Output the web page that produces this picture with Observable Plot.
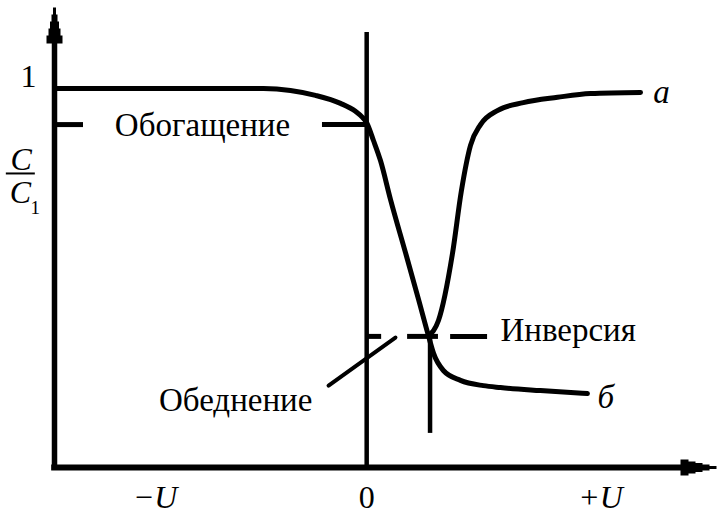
<!DOCTYPE html>
<html>
<head>
<meta charset="utf-8">
<script src="https://cdn.jsdelivr.net/npm/d3@7"></script>
<script src="https://cdn.jsdelivr.net/npm/@observablehq/plot@0.6"></script>
<style>
  html, body { margin: 0; padding: 0; background: #fff; font-family: "Liberation Serif", serif; }
  svg { display: block; }
  svg text { font-family: "Liberation Serif", serif !important; }
</style>
</head>
<body>
<div id="chart"></div>
<script>
// C–V characteristic of an MIS structure: relative capacitance C/C1 vs bias U.
// Voltage is in units of U (+U = 1), capacitance in units of C1.

// shared branch: accumulation plateau and depletion descent down to the crossing point
const descentU = [-1.335, -0.90, -0.441, -0.326, -0.219, -0.112, -0.048, -0.018, 0.0, 0.029, 0.059, 0.102, 0.166, 0.222, 0.264];
const descentC = [1.000, 1.000, 1.000, 0.995, 0.982, 0.961, 0.940, 0.924, 0.910, 0.863, 0.810, 0.707, 0.567, 0.443, 0.348];

// curve a (low frequency): recovery in inversion
const riseU = [0.264, 0.307, 0.367, 0.405, 0.444, 0.487, 0.559, 0.670, 0.816, 0.957, 1.171];
const riseC = [0.348, 0.388, 0.565, 0.730, 0.850, 0.905, 0.942, 0.963, 0.977, 0.987, 0.990];

// curve б (high frequency): stays low in inversion
const tailU = [0.264, 0.286, 0.328, 0.401, 0.499, 0.572, 0.743, 0.944];
const tailC = [0.348, 0.301, 0.256, 0.230, 0.216, 0.211, 0.203, 0.195];

// characteristic levels
const enrichLevel = 0.905;    // Обогащение
const inversionLevel = 0.346; // Инверсия
const inversionU = 0.271;

// tick labels on the voltage axis
const tickU = [-0.905, 0, 1.0];
const tickText = ["−U", "0", "+U"];

const xDomain = [-1.335, 1.496];
const yDomain = [0, 1.214];

const serif = "Liberation Serif";
// shift that puts the text baseline on the anchor point (Plot centres at 0.32em)
const toBaseline = size => -0.32 * size;

const toRows = (us, cs, curve) => us.map((u, i) => ({u, c: cs[i], curve}));
const curveB = toRows(descentU.concat(tailU.slice(1)), descentC.concat(tailC.slice(1)), "б");
const curveA = toRows(riseU, riseC, "a");

// dashed reference segments [u1, u2, level]
const dashes = [
  [-1.335, -1.211, enrichLevel],
  [-0.189, 0.0, enrichLevel],
  [0.0, 0.064, inversionLevel],
  [0.175, 0.307, inversionLevel],
  [0.359, 0.517, inversionLevel]
].map(([u1, u2, c]) => ({u1, u2, c}));

// leader line to the "Обеднение" label
const leader = [{u: -0.163, c: 0.216}, {u: 0.123, c: 0.343}];

// stepped arrowheads; tip at the anchor point
const steps = [[1.5, 0], [3, 7], [4.5, 14], [6, 21], [8, 28]];
const arrowLen = 36;
function stairPath(context, map) {
  const pts = [];
  steps.forEach(([w, d], i) => {
    const next = i + 1 < steps.length ? steps[i + 1][1] : arrowLen;
    pts.push([w, d], [w, next]);
  });
  const left = pts.slice().reverse().map(([w, d]) => [-w, d]);
  pts.concat(left).forEach(([w, d], i) => {
    const [px, py] = map(w, d);
    if (i === 0) context.moveTo(px, py); else context.lineTo(px, py);
  });
  context.closePath();
}
const arrowUp = {draw(context) { stairPath(context, (w, d) => [w, d]); }};
const arrowRight = {draw(context) { stairPath(context, (w, d) => [-d, w]); }};

// text rows: anchor point is the left/centre/right end of the baseline
const labelRows = [
  {u: -1.446, c: 1.003, text: "1", anchor: "middle", size: 32, style: "normal"},
  {u: -0.702, c: 0.876, text: "Обогащение", anchor: "middle", size: 33, style: "normal"},
  {u: 0.572, c: 0.333, text: "Инверсия", anchor: "start", size: 33, style: "normal"},
  {u: -0.232, c: 0.148, text: "Обеднение", anchor: "end", size: 33, style: "normal"},
  {u: 1.226, c: 0.963, text: "a", anchor: "start", size: 33, style: "italic"},
  {u: 0.987, c: 0.158, text: "б", anchor: "start", size: 33, style: "italic"},
  // C / C1
  {u: -1.477, c: 0.784, text: "C", anchor: "middle", size: 32, style: "italic"},
  {u: -1.481, c: 0.697, text: "C", anchor: "middle", size: 32, style: "italic"},
  {u: -1.417, c: 0.670, text: "1", anchor: "middle", size: 19, style: "normal"}
];

const tickRows = tickU.map((u, i) => ({u, text: tickText[i], style: i === 1 ? "normal" : "italic"}));

const textMarks = labelRows.map(d => Plot.text([d], {
  x: "u", y: "c", text: "text", textAnchor: d.anchor, dy: toBaseline(d.size),
  fontSize: d.size, fontStyle: d.style, fontFamily: serif, fill: "#000"
}));
const tickMarks = tickRows.map(d => Plot.text([d], {
  x: "u", y: () => 0, text: "text", dy: 40.5 + toBaseline(32),
  fontSize: 32, fontStyle: d.style, fontFamily: serif, fill: "#000"
}));

const chart = Plot.plot({
  width: 717,
  height: 515,
  marginLeft: 54,
  marginRight: 1,
  marginTop: 7,
  marginBottom: 48,
  style: {fontFamily: serif},
  x: {domain: xDomain, axis: null},
  y: {domain: yDomain, axis: null},
  marks: [
    // coordinate axes
    Plot.ruleY([0], {x1: -1.347, x2: 1.36, stroke: "#000", strokeWidth: 6}),
    Plot.ruleX([xDomain[0]], {y1: -0.008, y2: 1.12, stroke: "#000", strokeWidth: 5.5}),
    Plot.dot([{u: xDomain[0], c: yDomain[1]}], {x: "u", y: "c", symbol: arrowUp, fill: "#000", stroke: null, r: 8}),
    Plot.dot([{u: xDomain[1], c: 0}], {x: "u", y: "c", symbol: arrowRight, fill: "#000", stroke: null, r: 8}),
    // U = 0 and inversion markers
    Plot.ruleX([0], {y1: 0, y2: 1.148, stroke: "#000", strokeWidth: 4.5}),
    Plot.ruleX([inversionU], {y1: 0.090, y2: inversionLevel, stroke: "#000", strokeWidth: 4.5}),
    // dashed levels
    Plot.ruleY(dashes, {x1: "u1", x2: "u2", y: "c", stroke: "#000", strokeWidth: 5}),
    Plot.line(leader, {x: "u", y: "c", stroke: "#000", strokeWidth: 4}),
    // the two C–V curves
    Plot.line(curveB, {x: "u", y: "c", stroke: "#000", strokeWidth: 5, curve: "monotone-x"}),
    Plot.line(curveA, {x: "u", y: "c", stroke: "#000", strokeWidth: 5, curve: "monotone-x"}),
    // fraction bar of C/C1
    Plot.ruleY([0.776], {x1: -1.541, x2: -1.417, stroke: "#000", strokeWidth: 2}),
    // text
    ...textMarks,
    ...tickMarks
  ]
});

// serif face on every label, set directly on the text elements
d3.select(chart).attr("font-family", serif);
d3.select(chart).selectAll("text").style("font-family", `"${serif}", serif`);

document.getElementById("chart").append(chart);
</script>
</body>
</html>
